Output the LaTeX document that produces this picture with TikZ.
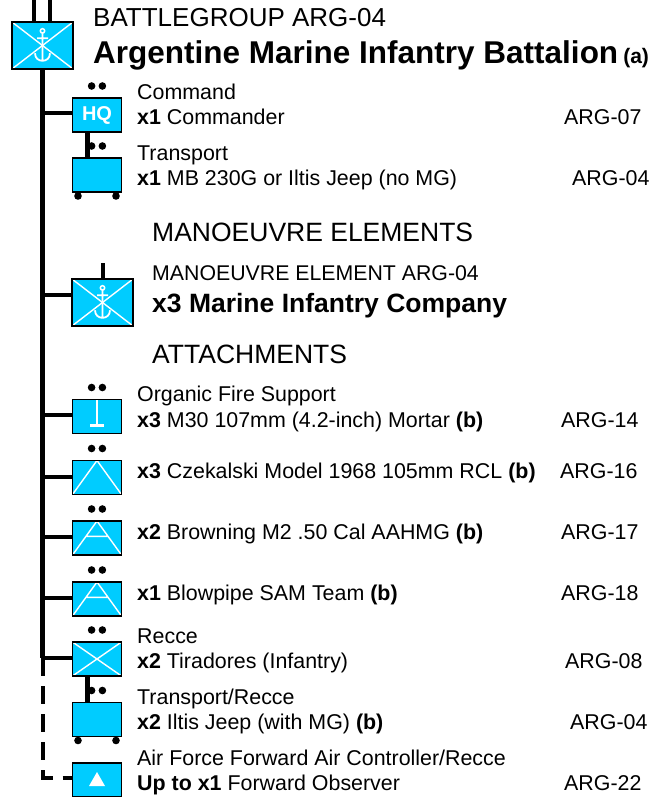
\documentclass[tikz,border=0pt]{standalone}
\usepackage{fontspec}
\setmainfont{Liberation Sans}
\usetikzlibrary{calc}
\definecolor{unitcyan}{RGB}{0,204,255}
\tikzset{
 unit/.style={draw=black, line width=1.5pt, fill=unitcyan, minimum width=49pt, minimum height=34pt, inner sep=0pt, outer sep=0pt, anchor=north west},
 bigunit/.style={unit, minimum width=61pt, minimum height=47pt},
 conn/.style={line width=4.5pt},
 tick/.style={line width=4pt},
 dashline/.style={line width=4pt, dash pattern=on 18pt off 10pt},
 wl/.style={white, line width=1.4pt},
 xsym/.style={path picture={\draw[wl] (path picture bounding box.north west) -- (path picture bounding box.south east) (path picture bounding box.north east) -- (path picture bounding box.south west);}},
 trisym/.style={path picture={\draw[wl] (path picture bounding box.south west) -- (path picture bounding box.north) -- (path picture bounding box.south east);}},
 aasym/.style={path picture={\draw[wl] (path picture bounding box.south west) -- (path picture bounding box.north) -- (path picture bounding box.south east)
   ($(path picture bounding box.north)!0.45!(path picture bounding box.south west)$) -- ($(path picture bounding box.north)!0.45!(path picture bounding box.south east)$);}},
 mortarsym/.style={path picture={\draw[white, line width=2.6pt] (path picture bounding box.north) -- ++(0,27)
   ($(path picture bounding box.north)+(-6.7,26)$) -- ++(13.4,0);}},
 fosym/.style={path picture={\fill[white] ($(path picture bounding box.north)+(0,9)$) -- ++(-8,14) -- ++(16,0) -- cycle;}},
 marinesym/.style={path picture={
   \draw[wl] (path picture bounding box.north west) -- (path picture bounding box.south east) (path picture bounding box.north east) -- (path picture bounding box.south west);
   \begin{scope}[shift={(path picture bounding box.center)}]
   \draw[white, line width=1.8pt] (0,-12.3) -- (0,15.5) (-5.5,-7.3) -- (5.5,-7.3)
     (-7.5,7.8) .. controls (-7.5,17.8) and (7.5,17.8) .. (7.5,7.8);
   \draw[white, line width=1.5pt] (0,-14.6) circle (2.2pt);
   \end{scope}}},
 body/.style={anchor=base west, inner sep=0pt, font=\fontsize{21.4}{25}\selectfont},
 head/.style={anchor=base west, inner sep=0pt, font=\fontsize{26.5}{30}\selectfont},
}
\newcommand{\unitdots}[1]{\fill ($(#1.north)+(-5.4,-12)$) circle (3.8pt) ($(#1.north)+(5.4,-12)$) circle (3.8pt);}
\newcommand{\unitwheels}[1]{\fill ($(#1.south west)+(5.5,4)$) circle (3.8pt) ($(#1.south east)+(-5.5,4)$) circle (3.8pt);}
\begin{document}
\begin{tikzpicture}[x=1pt, y=-1pt]
\useasboundingbox (0,0) rectangle (669,797);
\fill[white] (0,0) rectangle (669,797);

% unit boxes
\node[bigunit, marinesym] (main) at (12,22) {};
\node[unit, font=\bfseries\fontsize{20}{20}\selectfont, text=white] (hq) at (72.5,98) {HQ};
\node[unit] (tr) at (72.5,158) {};
\node[bigunit, marinesym] (man) at (72,279) {};
\node[unit, mortarsym] (mor) at (72.5,399.5) {};
\node[unit, trisym] (rcl) at (72.5,460.5) {};
\node[unit, aasym] (aa) at (72.5,521) {};
\node[unit, aasym] (sam) at (72.5,582) {};
\node[unit, xsym] (rec) at (72.5,642) {};
\node[unit] (tr2) at (72.5,702.5) {};
\node[unit, fosym] (fo) at (72.5,763) {};

% ticks
\draw[tick] ($(main.north)+(-8.2,0)$) -- ++(0,-24);
\draw[tick] ($(main.north)+(7.2,0)$) -- ++(0,-24);
\draw[tick] ($(man.north)+(0.3,0)$) -- ++(0,-16);

% connector points
\coordinate (c1) at ($(hq.west)+(0,-2)$);
\coordinate (c3) at ($(man.west)+(0,-7.5)$);
\coordinate (c4) at ($(mor.west)+(0,-1.5)$);
\coordinate (c5) at ($(rcl.west)+(0,-0.5)$);
\coordinate (c6) at ($(aa.west)+(0,-1)$);
\coordinate (c7) at ($(sam.west)+(0,-1)$);
\coordinate (c8) at ($(rec.west)+(0,-1)$);
\coordinate (c9) at ($(fo.west)+(0,-2)$);

% spine and connectors
\draw[conn] (main.south) -- (main.south |- c8);
\draw[conn] (main.south |- c1) -- (c1);
\draw[conn] (main.south |- c3) -- (c3);
\draw[conn] (main.south |- c4) -- (c4);
\draw[conn] (main.south |- c5) -- (c5);
\draw[conn] (main.south |- c6) -- (c6);
\draw[conn] (main.south |- c7) -- (c7);
\draw[conn] (main.south |- c8) -- (c8);
\draw[dashline] (main.south |- c8) -- (main.south |- c9) -- (c9);
\draw[line width=4.3pt] ($(hq.south west)+(15,0)$) -- ($(tr.north west)+(15,0)$);
\draw[line width=4.3pt] ($(rec.south west)+(15,0)$) -- ($(tr2.north west)+(15,0)$);

% dots and wheels
\unitdots{hq}
\unitdots{tr}
\unitdots{mor}
\unitdots{rcl}
\unitdots{aa}
\unitdots{sam}
\unitdots{rec}
\unitdots{tr2}
\unitwheels{tr}
\unitwheels{tr2}

% titles
\node[anchor=base west, inner sep=0pt, font=\fontsize{26}{30}\selectfont] (t1) at (93,27) {BATTLEGROUP ARG-04};
\node[anchor=base west, inner sep=0pt, font=\bfseries\fontsize{31.5}{34}\selectfont] (t2) at (93,63.5) {Argentine Marine Infantry Battalion\hspace{5pt}{\fontsize{21}{22}\selectfont(a)}};

% command
\node[body] (l1) at (137,100) {Command};
\node[body] (l2) at (137,124.5) {\textbf{x1} Commander};
\node[body] (r2) at (564,124.5) {ARG-07};
\node[body] (l3) at (137,160) {Transport};
\node[body] (l4) at (137,185) {\textbf{x1} MB 230G or Iltis Jeep (no MG)};
\node[body] (r4) at (572,185) {ARG-04};

% manoeuvre
\node[head] (h1) at (152,241.5) {MANOEUVRE ELEMENTS};
\node[anchor=base west, inner sep=0pt, font=\fontsize{21.3}{25}\selectfont] (m1) at (152,280) {MANOEUVRE ELEMENT ARG-04};
\node[anchor=base west, inner sep=0pt, font=\bfseries\fontsize{26.5}{30}\selectfont] (m2) at (152,312) {x3 Marine Infantry Company};
\node[head] (h2) at (152,363) {ATTACHMENTS};

% attachments
\node[body] (l5) at (137,401.5) {Organic Fire Support};
\node[body] (l6) at (137,427) {\textbf{x3} M30 107mm (4.2-inch) Mortar \textbf{(b)}};
\node[body] (r6) at (561,427) {ARG-14};
\node[body] (l7) at (137,478.5) {\textbf{x3} Czekalski Model 1968 105mm RCL \textbf{(b)}};
\node[body] (r7) at (560,478.5) {ARG-16};
\node[body] (l8) at (137,539.5) {\textbf{x2} Browning M2 .50 Cal AAHMG \textbf{(b)}};
\node[body] (r8) at (561,539.5) {ARG-17};
\node[body] (l9) at (137,600.5) {\textbf{x1} Blowpipe SAM Team \textbf{(b)}};
\node[body] (r9) at (561,600.5) {ARG-18};
\node[body] (l10) at (137,643) {Recce};
\node[body] (l11) at (137,668.5) {\textbf{x2} Tiradores (Infantry)};
\node[body] (r11) at (565,668.5) {ARG-08};
\node[body] (l12) at (137,704) {Transport/Recce};
\node[body] (l13) at (137,729) {\textbf{x2} Iltis Jeep (with MG) \textbf{(b)}};
\node[body] (r13) at (570,729) {ARG-04};
\node[body] (l14) at (137,765) {Air Force Forward Air Controller/Recce};
\node[body] (l15) at (137,790) {\textbf{Up to x1} Forward Observer};
\node[body] (r15) at (564,790) {ARG-22};
\end{tikzpicture}
\end{document}
